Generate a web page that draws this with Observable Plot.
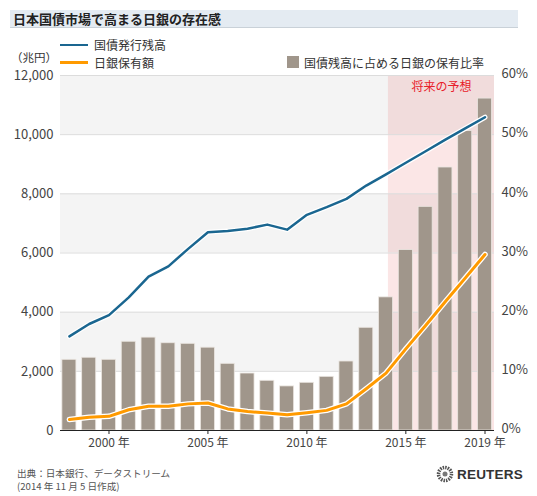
<!DOCTYPE html>
<html>
<head>
<meta charset="utf-8">
<script src="https://cdn.jsdelivr.net/npm/d3@7"></script>
<script src="https://cdn.jsdelivr.net/npm/@observablehq/plot@0.6"></script>
<style>
  html, body { margin: 0; padding: 0; background: #fff; }
  body { font-family: "Noto Sans CJK JP", "Noto Sans", sans-serif; color: #333; }
  #wrap { position: relative; width: 537px; height: 496px; overflow: hidden; }
  .abs { position: absolute; white-space: nowrap; }
  #title { left: 10px; top: 10px; width: 505px; height: 17px; background: #e4ebf2; border-bottom: 1px solid #c9d1d8;
           font-size: 13px; font-weight: bold; line-height: 17px; padding-left: 3px; color: #222; }
  .leg { font-size: 12px; line-height: 13px; color: #333; }
  .swl { height: 2.5px; width: 28px; }
  .cap { font-size: 9.6px; line-height: 11px; color: #555; }
  #chart { position: absolute; left: 0; top: 60px; }
</style>
</head>
<body>
<div id="wrap">
  <div id="title" class="abs">日本国債市場で高まる日銀の存在感</div>
  <div class="abs swl" style="left:60px; top:43.5px; background:#1a6690;"></div>
  <div class="abs leg" style="left:94px; top:38px;">国債発行残高</div>
  <div class="abs leg" style="left:11px; top:51px; font-size:11.5px;">（兆円）</div>
  <div class="abs swl" style="left:60px; top:61px; background:#ff9a00;"></div>
  <div class="abs leg" style="left:94px; top:55.5px;">日銀保有額</div>
  <div class="abs" style="left:287px; top:56px; width:12px; height:12px; background:#a0968b;"></div>
  <div class="abs leg" style="left:304px; top:55.5px;">国債残高に占める日銀の保有比率</div>
  <div id="chart"></div>
  <div class="abs cap" style="left:17px; top:468px;">出典：日本銀行、データストリーム</div>
  <div class="abs cap" style="left:17px; top:480.5px;">(2014 年 11 月 5 日作成)</div>
  <div class="abs" style="left:436px; top:465px; display:flex; align-items:center;">
    <svg width="18" height="18" viewBox="0 0 18 18">
      <circle cx="9" cy="9" r="6.5" fill="none" stroke="#555" stroke-width="3.5" stroke-dasharray="1.5 1"></circle>
      <circle cx="9" cy="9" r="2.5" fill="#777"></circle>
    </svg>
    <span style="font-family:'Liberation Sans', Arial, sans-serif; font-weight:bold; font-size:13.5px; color:#333; margin-left:3px; letter-spacing:0.2px;">REUTERS</span>
  </div>
</div>
<script>
// ---- data ----
const years = [1998,1999,2000,2001,2002,2003,2004,2005,2006,2007,2008,2009,2010,2011,2012,2013,2014,2015,2016,2017,2018,2019];
const jgbOutstanding = [3180,3600,3900,4500,5200,5550,6140,6700,6740,6820,6960,6790,7290,7550,7830,8280,8660,9050,9440,9830,10210,10590];
const bojHoldings = [370,450,480,700,820,820,900,930,730,640,590,530,600,680,900,1410,1940,2760,3550,4360,5150,5950];
const bojSharePct = [11.95,12.3,11.95,15.0,15.7,14.75,14.65,14.0,11.27,9.63,8.4,7.45,8.06,9.07,11.66,17.36,22.5,30.5,37.8,44.45,50.6,56.1];
const yTicks = [0,2000,4000,6000,8000,10000,12000];
const pctTicks = [0,10,20,30,40,50,60];
const xTicks = [2000,2005,2010,2015,2019];
const forecastStart = 2014.12;
const forecastLabel = "将来の予想";

// ---- chart ----
const xDomain = [1997.55, 2019.48];
const yMax = 12000, pctMax = 60, ratio = yMax / pctMax;
const rows = years.map((y, i) => ({year: y, jgb: jgbOutstanding[i], boj: bojHoldings[i], pct: bojSharePct[i]}));
const bands = yTicks.slice(0, -1).map((v, i) => ({y1: v, y2: yTicks[i + 1], shaded: i % 2 === 1}));

const chart = Plot.plot({
  width: 537, height: 400,
  marginLeft: 60, marginRight: 43, marginTop: 15, marginBottom: 30,
  style: {fontFamily: "'Noto Sans CJK JP', 'Noto Sans', sans-serif", fontSize: "13px", color: "#444", background: "transparent"},
  x: {type: "linear", domain: xDomain},
  y: {domain: [0, yMax]},
  marks: [
    Plot.rect(bands, {y1: "y1", y2: "y2", fill: d => d.shaded ? "#f4f4f4" : "#ffffff"}),
    Plot.rect(bands, {x1: forecastStart, x2: xDomain[1], y1: "y1", y2: "y2", fill: d => d.shaded ? "#f1dcdc" : "#fbe6e6"}),
    Plot.ruleY(yTicks.slice(1), {stroke: "#dcdcdc", strokeWidth: 1}),
    Plot.text([forecastLabel], {x: (forecastStart + xDomain[1]) / 2, y: yMax, dy: 12, text: d => d, fill: "#e8202a", fontSize: 12}),
    Plot.rect(rows, {x1: d => d.year - 0.355, x2: d => d.year + 0.355, y1: 0, y2: d => d.pct * ratio, fill: "#a0968b", stroke: "#ebe6e1", strokeWidth: 0.8}),
    Plot.line(rows, {x: "year", y: "jgb", stroke: "#fff", strokeWidth: 5, strokeLinejoin: "round", strokeLinecap: "round"}),
    Plot.line(rows, {x: "year", y: "jgb", stroke: "#1a6690", strokeWidth: 2.5, strokeLinejoin: "round", strokeLinecap: "round"}),
    Plot.line(rows, {x: "year", y: "boj", stroke: "#fff", strokeWidth: 5.5, strokeLinejoin: "round", strokeLinecap: "round"}),
    Plot.line(rows, {x: "year", y: "boj", stroke: "#ff9a00", strokeWidth: 3, strokeLinejoin: "round", strokeLinecap: "round"}),
    Plot.ruleY([0], {stroke: "#222", strokeWidth: 1.2}),
    Plot.axisY({ticks: yTicks, tickSize: 0, tickPadding: 7, tickFormat: d3.format(","), label: null, fill: "#444"}),
    Plot.text(pctTicks, {y: d => d * ratio, frameAnchor: "right", dx: 7, dy: -1.5, textAnchor: "start", text: d => d + "%", fill: "#444", fontSize: 13}),
    Plot.axisX({ticks: xTicks, tickSize: 4, tickPadding: 3.5, tickFormat: d => d + " 年", label: null, stroke: "#222", fill: "#444", fontSize: 12})
  ]
});
document.getElementById("chart").appendChild(chart);
</script>
</body>
</html>
